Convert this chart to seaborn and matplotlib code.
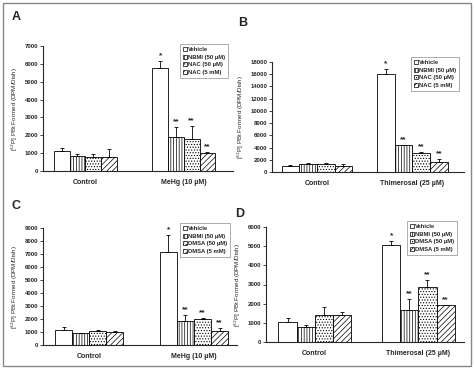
import matplotlib
matplotlib.use("Agg")
import matplotlib.pyplot as plt
import matplotlib.patches as mpatches
import numpy as np
import pandas as pd
import seaborn as sns

sns.set_style("ticks")
plt.rcParams['font.family'] = ['Liberation Sans', 'DejaVu Sans']
plt.rcParams['hatch.linewidth'] = 0.5

# ---------------- data ----------------
groups_A = ["Control", "MeHg (10 µM)"]
groups_B = ["Control", "Thimerosal (25 µM)"]
treat_AB = ["Vehicle", "NBMI (50 µM)", "NAC (50 µM)", "NAC (5 mM)"]
treat_CD = ["Vehicle", "NBMI (50 µM)", "DMSA (50 µM)", "DMSA (5 mM)"]

# values [treatment][group]
vals_A = [[1130, 5740], [860, 1920], [800, 1770], [800, 990]]
errs_A = [[140, 410], [70, 560], [150, 760], [430, 90]]
stars_A = [["", "*"], ["", "**"], ["", "**"], ["", "**"]]

vals_B = [[980, 16000], [1360, 4340], [1300, 3090], [1030, 1630]]
errs_B = [[160, 800], [100, 160], [110, 160], [330, 480]]
stars_B = [["", "*"], ["", "**"], ["", "**"], ["", "**"]]

vals_C = [[1120, 7120], [890, 1810], [1100, 2010], [1020, 1100]]
errs_C = [[260, 1370], [50, 510], [50, 100], [50, 200]]
stars_C = [["", "*"], ["", "**"], ["", "**"], ["", "**"]]

vals_D = [[1040, 5040], [780, 1670], [1390, 2850], [1410, 1910]]
errs_D = [[230, 230], [90, 590], [440, 400], [160, 40]]
stars_D = [["", "*"], ["", "**"], ["", "**"], ["", "**"]]

ylims = {"A": 7000, "B": 18000, "C": 9000, "D": 6000}
ysteps = {"A": 1000, "B": 2000, "C": 1000, "D": 1000}

hatches = ["", "||||||", "......", "//////"]

W, H = 474, 369
fig = plt.figure(figsize=(W / 100, H / 100), dpi=100)

def rect(l, r, top, bot):
    return [l / W, 1 - bot / H, (r - l) / W, (bot - top) / H]

panels = [
    ("A", groups_A, treat_AB, vals_A, errs_A, stars_A, rect(43, 233, 46, 171), (-0.43, 1.5), 0.64, (228, 44), (16, 17)),
    ("B", groups_B, treat_AB, vals_B, errs_B, stars_B, rect(272, 464, 62, 172), (-0.47, 1.54), 0.74, (459, 57), (243, 23)),
    ("C", groups_A, treat_CD, vals_C, errs_C, stars_C, rect(43, 237, 228, 345), (-0.44, 1.41), 0.65, (230, 223), (16, 206)),
    ("D", groups_B, treat_CD, vals_D, errs_D, stars_D, rect(266, 464, 227, 342), (-0.47, 1.44), 0.7, (457, 221), (240, 214)),
]

for key, groups, treats, vals, errs, stars, pos, xlim, width, legpos, letpos in panels:
    ax = fig.add_axes(pos)
    rows = []
    for ti, t in enumerate(treats):
        for gi, g in enumerate(groups):
            rows.append({"group": g, "treatment": t, "value": vals[ti][gi]})
    df = pd.DataFrame(rows)
    sns.barplot(data=df, x="group", y="value", hue="treatment", order=groups,
                hue_order=treats, palette=["white"] * 4, edgecolor="black",
                linewidth=0.6, errorbar=None, width=width, ax=ax, legend=False)
    ymax = ylims[key]
    bar_containers = list(ax.containers)[:4]
    for ti, cont in enumerate(bar_containers):
        for gi, bar in enumerate(cont.patches):
            bar.set_hatch(hatches[ti])
            x = bar.get_x() + bar.get_width() / 2
            h = bar.get_height()
            e = errs[ti][gi]
            ax.errorbar(x, h, yerr=[[0], [e]], fmt="none", ecolor="black",
                        elinewidth=0.6, capsize=1.5, capthick=0.6)
            if stars[ti][gi]:
                ax.text(x, h + e + ymax * 0.015, stars[ti][gi], ha="center",
                        va="bottom", fontsize=6, fontweight="bold")
    ax.set_xlim(*xlim)
    ax.set_ylim(0, ymax)
    ax.set_yticks(np.arange(0, ymax + 1, ysteps[key]))
    ax.tick_params(axis="y", labelsize=4.3, length=2, width=0.6, pad=1.5)
    ax.tick_params(axis="x", labelsize=5, length=0, pad=6)
    for lab in ax.get_yticklabels() + ax.get_xticklabels():
        lab.set_fontweight("bold")
    ax.set_xlabel("")
    ax.set_ylabel("[$^{32}$P] PBt Formed (DPM/Dish)", fontsize=4.5, labelpad=3)
    sns.despine(ax=ax)
    ax.spines["left"].set_linewidth(0.8)
    ax.spines["bottom"].set_linewidth(0.8)
    handles = [mpatches.Patch(facecolor="white", edgecolor="black", linewidth=0.5,
                              hatch=hatches[i], label=treats[i]) for i in range(4)]
    leg = ax.legend(handles=handles, loc="upper right",
                    bbox_to_anchor=(legpos[0] / W, 1 - legpos[1] / H),
                    bbox_transform=fig.transFigure, fontsize=4.2,
                    handlelength=0.7, handleheight=0.7, handletextpad=0.2,
                    labelspacing=0.45, borderpad=0.5, frameon=True,
                    fancybox=False, edgecolor="#888888", borderaxespad=0)
    leg.get_frame().set_linewidth(0.6)
    for t in leg.get_texts():
        t.set_fontweight("bold")
    fig.text(letpos[0] / W, 1 - letpos[1] / H, key, fontsize=9, fontweight="bold",
             ha="center", va="center")

fig.patches.append(mpatches.Rectangle((3 / W, 3 / H), 468 / W, 363 / H,
                                      transform=fig.transFigure, fill=False,
                                      edgecolor="#888888", linewidth=1))
fig.savefig("out.png", dpi=100)
